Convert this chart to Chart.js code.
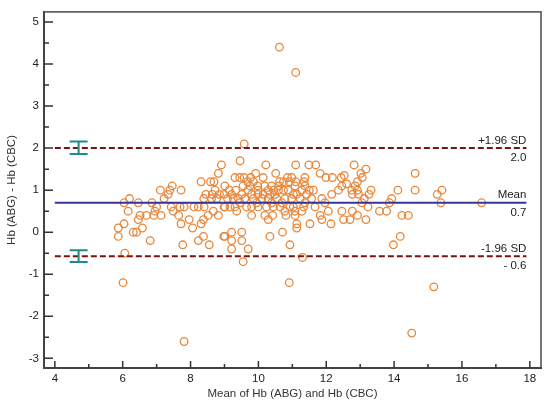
<!DOCTYPE html>
<html>
<head>
    <title>Bland-Altman: Hb (ABG) vs Hb (CBC)</title>
    <script src="https://cdn.jsdelivr.net/npm/chart.js"></script>
    <style>
        body { margin: 0; background: #fff; }
        .chart-container { width: 550px; height: 407px; }
    </style>
</head>
<body>
    <div class="chart-container">
        <canvas id="baChart"></canvas>
    </div>

    <script>
        // mean of the two methods (x) and their difference (y)
        const meanX = [
            8.91, 8.82, 8.31, 8.59, 8.69, 7.46, 7.39, 7.11, 7.72, 7.34,
            8.45, 8.72, 8.85, 8.64, 8.99, 7.22, 6.20, 8.39, 8.62, 8.77,
            6.04, 6.46, 6.86, 6.16, 6.51, 6.70, 6.46, 6.04, 5.87, 5.87,
            6.31, 6.41, 6.58, 6.81, 6.92, 7.13, 6.95, 7.00, 7.43, 7.49,
            7.65, 7.72, 7.77, 7.69, 7.81, 7.96, 8.06, 8.10, 8.23, 8.40,
            8.31, 8.38, 8.23, 8.38, 8.55, 8.52, 8.67, 8.82, 8.99, 8.98,
            6.06, 6.01, 7.81,
            9.58, 9.46, 10.22, 11.10, 11.49, 11.69, 10.51, 11.37, 11.82, 11.99,
            12.18, 12.44, 12.53, 9.31, 9.45, 9.58, 9.77, 9.92, 10.14, 10.86,
            10.98, 10.62, 10.74, 10.91, 11.10, 11.35, 9.01, 9.14, 9.21, 9.33,
            9.55, 9.68, 9.85, 9.98, 10.19, 10.29, 10.39, 10.61, 10.74, 11.08,
            11.37, 11.50, 9.51, 9.70, 9.80, 9.99, 10.14, 10.34, 10.49, 10.59,
            10.88, 11.03, 11.13, 11.28, 11.42, 9.09, 9.26, 9.41, 9.60, 9.85,
            10.10, 10.29, 10.54, 10.78, 10.98, 11.23, 11.57, 11.87, 12.16, 12.36,
            12.46, 12.60, 9.01, 9.31, 9.46, 9.95, 10.39, 10.69, 10.93, 11.37,
            11.67, 11.96, 9.16, 9.36, 9.65, 9.80, 9.99, 10.24, 10.44, 10.64,
            10.78, 11.03, 11.08, 11.28, 11.33, 9.80, 10.19, 10.81, 11.08, 12.46,
            12.51, 12.70, 10.29, 11.13, 11.52, 11.87, 12.14, 11.13, 9.21, 9.51,
            9.01, 9.21, 9.51, 10.34, 10.71, 10.93, 9.21, 9.70, 9.55, 11.30,
            10.42, 10.62, 11.10, 10.91, 11.82, 12.06, 9.99, 10.45, 11.62, 9.75,
            12.82, 13.17, 13.02, 13.06, 12.92, 12.85, 12.75, 12.92, 12.77, 12.95,
            13.32, 13.26, 13.12, 13.05, 13.23, 12.77, 12.92, 13.17, 13.57, 13.78,
            13.93, 13.86, 14.11, 14.62, 14.62, 14.23, 14.42, 15.27, 15.41, 15.38,
            14.18, 13.98, 16.58, 15.17, 14.52
        ];
        const diffY = [
            1.6, 1.4, 1.2, 1.2, 1.2, 1.1, 1.0, 1.0, 1.0, 0.9,
            0.9, 1.0, 0.9, 0.9, 0.9, 0.8, 0.8, 0.8, 0.8, 0.8,
            0.7, 0.7, 0.7, 0.5, 0.4, 0.4, 0.3, 0.2, 0.1, -0.1,
            0.0, 0.0, 0.1, -0.2, 0.4, 0.4, 0.5, 0.6, 0.6, 0.5,
            0.4, 0.2, -0.3, 0.6, 0.6, 0.3, 0.1, 0.6, 0.6, 0.6,
            0.2, 0.3, -0.2, -0.1, -0.3, 0.4, 0.5, 0.4, 0.6, -0.1,
            -0.5, -1.2, -2.6,
            2.1, 1.7, 1.6, 1.6, 1.6, 1.6, 1.4, 1.3, 1.4, 1.3,
            1.3, 1.3, 1.35, 1.3, 1.3, 1.3, 1.3, 1.4, 1.3, 1.3,
            1.3, 1.2, 1.2, 1.2, 1.2, 1.2, 1.1, 1.0, 0.9, 1.0,
            1.1, 1.2, 1.2, 1.1, 1.1, 1.0, 1.1, 1.1, 1.0, 1.1,
            1.1, 1.0, 0.9, 1.0, 0.9, 0.9, 0.9, 0.9, 0.9, 1.0,
            1.0, 0.9, 0.9, 1.0, 0.9, 0.8, 0.8, 0.8, 0.8, 0.8,
            0.8, 0.8, 0.8, 0.8, 0.8, 0.8, 0.8, 0.8, 0.9, 1.0,
            1.1, 1.15, 0.6, 0.6, 0.7, 0.7, 0.7, 0.7, 0.6, 0.7,
            0.6, 0.7, 0.6, 0.5, 0.6, 0.6, 0.6, 0.6, 0.6, 0.6,
            0.5, 0.6, 0.5, 0.5, 0.6, 0.4, 0.4, 0.4, 0.4, 0.5,
            0.3, 0.3, 0.3, 0.2, 0.2, 0.3, 0.2, 0.1, 0.0, 0.0,
            -0.1, -0.2, -0.2, -0.1, 0.0, -0.3, -0.4, -0.4, -0.7, -0.6,
            0.4, 4.4, 3.8, -1.2, 0.4, 0.5, 1.0, 1.0, 1.0, 1.1,
            1.6, 1.5, 1.4, 1.3, 1.2, 1.1, 1.0, 1.0, 0.9, 0.9,
            1.0, 0.9, 0.8, 0.7, 0.6, 0.5, 0.4, 0.3, 0.5, 0.5,
            0.8, 0.7, 1.0, 1.4, 1.0, 0.4, 0.4, 0.9, 1.0, 0.7,
            -0.1, -0.3, 0.7, -1.3, -2.4
        ];

        const xTicks = [4, 6, 8, 10, 12, 14, 16, 18];
        const xMinorTicks = [5, 7, 9, 11, 13, 15, 17];
        const yTicks = [-3, -2, -1, 0, 1, 2, 3, 4, 5];
        const yMinorTicks = [-2.5, -1.5, -0.5, 0.5, 1.5, 2.5, 3.5, 4.5];

        // mean difference and limits of agreement
        const lineValues = [2.0, 0.7, -0.57];
        const lineNamesAbove = ['+1.96 SD', 'Mean', '-1.96 SD'];
        const lineNamesBelow = ['2.0', '0.7', '- 0.6'];
        const lineStart = 4;
        const lineEnd = 17.9;

        // confidence intervals of the limits, drawn at the left
        const ciX = 4.7;
        const ciLow = [1.86, -0.71];
        const ciHigh = [2.16, -0.43];

        const points = meanX.map((v, i) => ({ x: v, y: diffY[i] }));

        function refLine(value, color, dash, width) {
            return {
                data: [{ x: lineStart, y: value }, { x: lineEnd, y: value }],
                showLine: true,
                borderColor: color,
                borderWidth: width,
                borderDash: dash,
                pointRadius: 0
            };
        }

        const extras = {
            id: 'extras',
            afterDatasetsDraw(chart) {
                const { ctx, chartArea: a, scales: { x, y } } = chart;
                ctx.save();

                // plot frame
                ctx.strokeStyle = '#4a4a4a';
                ctx.lineWidth = 1.5;
                ctx.strokeRect(a.left, a.top, a.right - a.left, a.bottom - a.top);

                // inward tick marks
                ctx.strokeStyle = '#333';
                ctx.lineWidth = 1.5;
                ctx.beginPath();
                xTicks.forEach(v => {
                    const px = x.getPixelForValue(v);
                    ctx.moveTo(px, a.bottom); ctx.lineTo(px, a.bottom - 7);
                });
                xMinorTicks.forEach(v => {
                    const px = x.getPixelForValue(v);
                    ctx.moveTo(px, a.bottom); ctx.lineTo(px, a.bottom - 4);
                });
                yTicks.forEach(v => {
                    const py = y.getPixelForValue(v);
                    ctx.moveTo(a.left, py); ctx.lineTo(a.left + 9, py);
                });
                yMinorTicks.forEach(v => {
                    const py = y.getPixelForValue(v);
                    ctx.moveTo(a.left, py); ctx.lineTo(a.left + 5, py);
                });
                ctx.stroke();

                // CI error bars
                ctx.strokeStyle = '#1f8a86';
                ctx.lineWidth = 2;
                ctx.beginPath();
                const cx = x.getPixelForValue(ciX);
                ciLow.forEach((lo, i) => {
                    const p1 = y.getPixelForValue(lo);
                    const p2 = y.getPixelForValue(ciHigh[i]);
                    ctx.moveTo(cx, p1); ctx.lineTo(cx, p2);
                    ctx.moveTo(cx - 9, p1); ctx.lineTo(cx + 9, p1);
                    ctx.moveTo(cx - 9, p2); ctx.lineTo(cx + 9, p2);
                });
                ctx.stroke();

                // line labels
                ctx.font = '11.5px "Liberation Sans", Arial, sans-serif';
                ctx.fillStyle = '#222';
                ctx.textAlign = 'right';
                const lx = x.getPixelForValue(lineEnd);
                lineValues.forEach((v, i) => {
                    const py = y.getPixelForValue(v);
                    ctx.textBaseline = 'bottom';
                    ctx.fillText(lineNamesAbove[i], lx, py - 2);
                    ctx.textBaseline = 'top';
                    ctx.fillText(lineNamesBelow[i], lx, py + 4);
                });
                ctx.restore();
            }
        };

        const font = { family: '"Liberation Sans", Arial, sans-serif', size: 11.5 };

        new Chart(document.getElementById('baChart'), {
            type: 'scatter',
            data: {
                datasets: [
                    refLine(lineValues[0], '#7a1212', [6, 3], 2),
                    refLine(lineValues[1], '#3535a0', [], 2),
                    refLine(lineValues[2], '#7a1212', [6, 3], 2),
                    {
                        data: points,
                        pointStyle: 'circle',
                        pointRadius: 3.8,
                        pointBorderWidth: 1.3,
                        borderColor: '#e8873a',
                        backgroundColor: 'rgba(255,255,255,0)'
                    }
                ]
            },
            options: {
                responsive: true,
                maintainAspectRatio: false,
                animation: false,
                layout: { padding: { left: 0, top: 9, right: 9, bottom: 0 } },
                plugins: {
                    legend: { display: false },
                    tooltip: { enabled: false }
                },
                scales: {
                    x: {
                        type: 'linear',
                        min: 3.68,
                        max: 18.33,
                        afterBuildTicks: s => { s.ticks = xTicks.map(v => ({ value: v })); },
                        afterFit: s => { s.height = 39; },
                        grid: { display: false, drawTicks: false },
                        border: { display: true, color: '#333', width: 2 },
                        ticks: { font: font, color: '#222', padding: 4, maxRotation: 0 },
                        title: {
                            display: true,
                            text: 'Mean of Hb (ABG) and Hb (CBC)',
                            font: font,
                            color: '#333',
                            padding: { top: 0, bottom: 6 }
                        }
                    },
                    y: {
                        type: 'linear',
                        min: -3.23,
                        max: 5.24,
                        afterBuildTicks: s => { s.ticks = yTicks.map(v => ({ value: v })); },
                        afterFit: s => { s.width = 44; },
                        grid: { display: false, drawTicks: false },
                        border: { display: true, color: '#333', width: 2 },
                        ticks: { font: font, color: '#222', padding: 5 },
                        title: {
                            display: true,
                            text: 'Hb (ABG) - Hb (CBC)',
                            font: font,
                            color: '#333',
                            padding: { top: 5, bottom: 0 }
                        }
                    }
                }
            },
            plugins: [extras]
        });
    </script>
</body>
</html>
